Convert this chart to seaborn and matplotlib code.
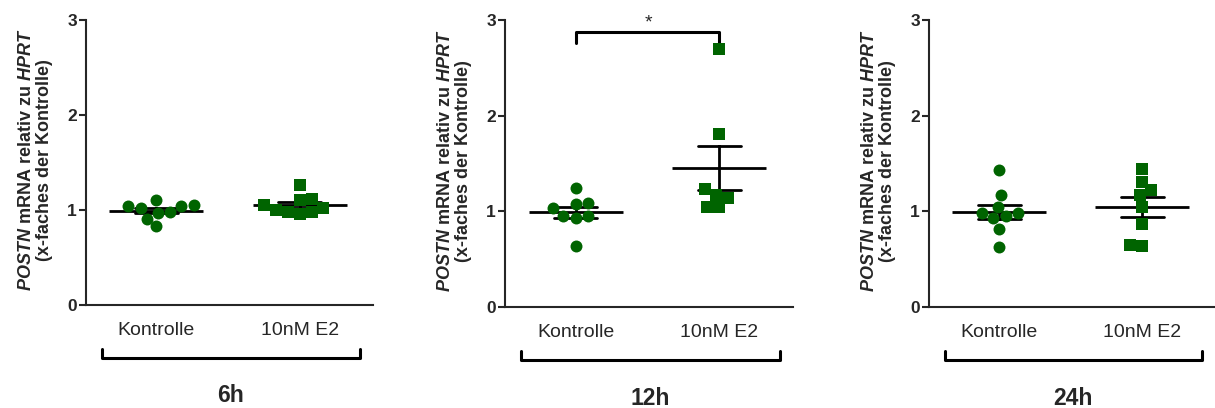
import numpy as np
import pandas as pd
import matplotlib
matplotlib.use("Agg")
import matplotlib.pyplot as plt
import matplotlib.transforms as mtransforms
import seaborn as sns

# Werte (x-fache der Kontrolle)
zeitpunkte = ["6h", "12h", "24h"]
gruppen = ["Kontrolle", "10nM E2"]

kontrolle_6h = [1.05, 1.04, 1.02, 1.04, 1.10, 0.98, 0.91, 0.83, 0.97]
e2_6h = [1.26, 1.11, 1.12, 1.02, 0.98, 0.96, 0.98, 1.00, 1.05]
kontrolle_12h = [1.24, 1.09, 1.08, 1.03, 0.95, 0.93, 0.95, 0.64]
e2_12h = [2.70, 1.81, 1.23, 1.17, 1.14, 1.05, 1.05]
kontrolle_24h = [1.43, 1.17, 1.05, 0.93, 0.98, 0.98, 0.95, 0.82, 0.63]
e2_24h = [1.44, 1.31, 1.22, 1.17, 1.05, 0.87, 0.64, 0.65]

y_ticks = [0, 1, 2, 3]
signifikanz = {"12h": "*"}

GREEN = "#006400"

sns.set_theme(style="ticks")
plt.rcParams["font.family"] = ["Liberation Sans", "DejaVu Sans"]
plt.rcParams["mathtext.fontset"] = "custom"
plt.rcParams["mathtext.rm"] = "Liberation Sans:bold"
plt.rcParams["mathtext.it"] = "Liberation Sans:italic:bold"
plt.rcParams["mathtext.bf"] = "Liberation Sans:bold"


def make_frame(kontrolle, e2):
    return pd.DataFrame({
        "gruppe": ["Kontrolle"] * len(kontrolle) + ["10nM E2"] * len(e2),
        "wert": list(kontrolle) + list(e2),
    })


frames = [
    make_frame(kontrolle_6h, e2_6h),
    make_frame(kontrolle_12h, e2_12h),
    make_frame(kontrolle_24h, e2_24h),
]

fig = plt.figure(figsize=(12.15, 4.08), dpi=100)
axes_rects = [
    (0.0708, 0.2525, 0.2362, 0.6985),
    (0.4156, 0.2475, 0.2370, 0.7035),
    (0.7646, 0.2475, 0.2354, 0.7035),
]

ylabel = r"$\mathit{POSTN}$ mRNA relativ zu $\mathit{HPRT}$" + "\n(x-faches der Kontrolle)"

for rect, df, zeit in zip(axes_rects, frames, zeitpunkte):
    ax = fig.add_axes(rect)

    # einzelne Messpunkte
    sns.swarmplot(data=df[df["gruppe"] == "Kontrolle"], x="gruppe", y="wert",
                  order=gruppen, color=GREEN, marker="o", size=8.6,
                  linewidth=0, ax=ax)
    sns.swarmplot(data=df[df["gruppe"] == "10nM E2"], x="gruppe", y="wert",
                  order=gruppen, color=GREEN, marker="s", size=8.4,
                  linewidth=0, ax=ax)

    # Mittelwert +/- SEM
    sns.pointplot(data=df, x="gruppe", y="wert", order=gruppen,
                  errorbar="se", capsize=0.3, color="black",
                  linestyle="none", marker="_", markersize=68,
                  markeredgewidth=2, err_kws={"linewidth": 2}, ax=ax)

    ax.set_xlim(-0.49, 1.51)
    ax.set_ylim(0, 3)
    ax.set_yticks(y_ticks)
    ax.set_yticklabels([str(t) for t in y_ticks], fontsize=12.5, fontweight="bold")
    ax.set_xticks(range(len(gruppen)))
    ax.set_xticklabels(gruppen, fontsize=14)
    ax.tick_params(axis="x", length=0, pad=12)
    ax.tick_params(axis="y", length=5, width=1.5, pad=1.5)
    ax.set_xlabel("")
    ax.set_ylabel(ylabel, fontsize=13, fontweight="bold", linespacing=1.05)
    ax.yaxis.set_label_coords(-0.115, 0.51)
    sns.despine(ax=ax)
    for side in ["left", "bottom"]:
        ax.spines[side].set_linewidth(1.5)

    # Gruppenklammer unter der Achse
    trans = mtransforms.blended_transform_factory(ax.transData, ax.transAxes)
    ax.plot([-0.38, -0.38, 1.42, 1.42], [-0.153, -0.186, -0.186, -0.153],
            color="black", lw=2.2, transform=trans, clip_on=False)
    ax.text(0.52, -0.318, zeit, transform=trans, ha="center", va="center",
            fontsize=16.5, fontweight="bold")

    if zeit in signifikanz:
        ax.plot([0, 0, 1, 1], [2.76, 2.87, 2.87, 2.76], color="black",
                lw=2.2, clip_on=False)
        ax.text(0.51, 2.97, signifikanz[zeit], ha="center", va="center",
                fontsize=14)

fig.savefig("out.png", dpi=100)
